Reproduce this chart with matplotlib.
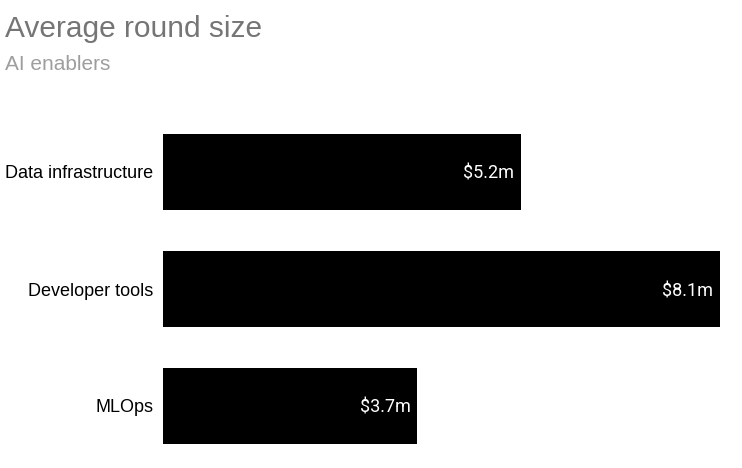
import matplotlib
matplotlib.use("Agg")
import matplotlib.pyplot as plt

# chart data
categories = ["Data infrastructure", "Developer tools", "MLOps"]
values = [5.2, 8.1, 3.7]
value_labels = ["$5.2m", "$8.1m", "$3.7m"]

title = "Average round size"
subtitle = "AI enablers"

plt.rcParams["font.family"] = ["Liberation Sans", "DejaVu Sans"]

fig = plt.figure(figsize=(7.42, 4.68), dpi=100)
ax = fig.add_axes([163 / 742, 1 - 464.5 / 468, (720 - 163) / 742, (464.5 - 113.5) / 468])

ypos = list(range(len(categories)))
ax.barh(ypos, values, height=0.65, color="black")

for y, v, lab in zip(ypos, values, value_labels):
    ax.annotate(lab, xy=(v, y), xytext=(-5, 0), textcoords="offset points",
                ha="right", va="center_baseline", color="white", fontsize=13,
                family=["Roboto", "DejaVu Sans"])

ax.set_xlim(0, max(values))
ax.set_ylim(len(categories) - 0.5, -0.5)
ax.set_yticks(ypos)
ax.set_yticklabels(categories, fontsize=13, va="center_baseline")
ax.tick_params(axis="y", length=0, pad=7)
ax.set_xticks([])
for s in ax.spines.values():
    s.set_visible(False)

fig.text(5 / 742, 1 - 37 / 468, title, fontsize=21.5, color="#757575", va="baseline")
fig.text(5 / 742, 1 - 70 / 468, subtitle, fontsize=15, color="#9e9e9e", va="baseline")

fig.savefig("out.png", dpi=100)
